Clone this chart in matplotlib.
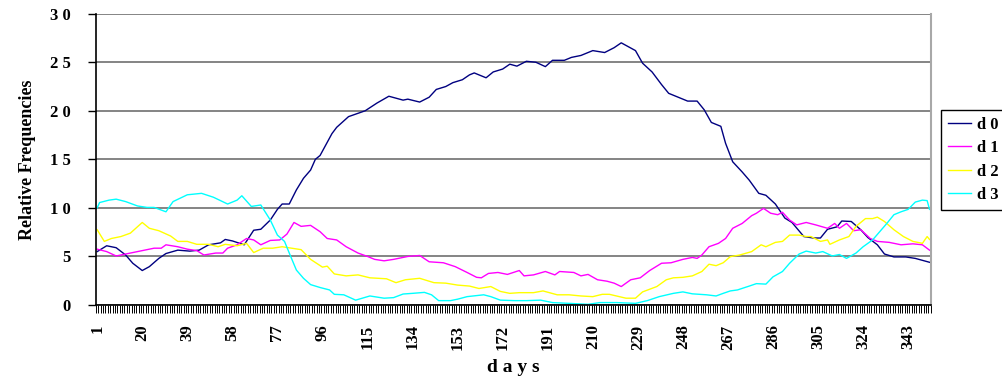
import matplotlib
matplotlib.use('Agg')
import matplotlib.pyplot as plt
from matplotlib.ticker import FixedLocator, FixedFormatter, NullFormatter

plt.rcParams['font.family'] = ['Liberation Serif', 'DejaVu Serif']
plt.rcParams['font.weight'] = 'bold'

n_days = 352
tick_days = list(range(1, n_days + 1, 19))
y_ticks = [0, 5, 10, 15, 20, 25, 30]
y_labels = ['0', '5', '1 0', '1 5', '2 0', '2 5', '3 0']
labels = ['d 0', 'd 1', 'd 2', 'd 3']
colors = ['#000080', '#FF00FF', '#FFFF00', '#00FFFF']

# d0 - dunkelblau
days_d0 = [1, 5, 9, 13, 16, 20, 23, 27, 30, 35, 40, 44, 48, 53, 55, 58, 63, 67, 70, 74,
           77, 79, 82, 85, 88, 91, 93, 95, 100, 102, 107, 114, 119, 124, 130, 132, 137, 141,
           144, 148, 151, 155, 158, 160, 165, 168, 172, 175, 178, 182, 186, 190, 193, 198,
           201, 205, 210, 215, 219, 222, 225, 228, 231, 235, 239, 242, 246, 250, 254, 257,
           260, 264, 266, 269, 273, 276, 280, 283, 287, 291, 294, 299, 303, 306, 309, 313,
           315, 319, 323, 326, 330, 333, 337, 342, 346, 349, 352]
vals_d0 = [5.5, 6.1, 5.9, 5.15, 4.3, 3.55, 3.95, 4.8, 5.3, 5.65, 5.55, 5.65, 6.2, 6.4, 6.75,
           6.6, 6.2, 7.7, 7.8, 8.75, 9.85, 10.4, 10.4, 11.85, 13.05, 13.9, 15.0, 15.4, 17.65,
           18.3, 19.4, 20.0, 20.8, 21.5, 21.1, 21.2, 20.9, 21.4, 22.2, 22.5, 22.9, 23.2, 23.7,
           23.9, 23.4, 24.0, 24.3, 24.8, 24.6, 25.1, 25.0, 24.55, 25.2, 25.2, 25.5, 25.7, 26.2,
           26.0, 26.5, 27.0, 26.6, 26.2, 24.9, 24.0, 22.7, 21.8, 21.4, 21.0, 21.0, 20.1, 18.8,
           18.4, 16.65, 14.75, 13.7, 12.85, 11.5, 11.3, 10.4, 8.95, 8.5, 7.05, 6.9, 6.9, 7.8,
           8.05, 8.65, 8.6, 7.75, 6.95, 6.2, 5.25, 4.95, 4.95, 4.8, 4.6, 4.4]

# d1 - magenta
days_d1 = [1, 5, 9, 13, 18, 21, 25, 28, 30, 35, 39, 43, 46, 51, 54, 56, 60, 64, 67, 70, 74,
           78, 81, 84, 87, 91, 95, 98, 102, 106, 111, 115, 118, 122, 126, 132, 137, 141, 147,
           152, 157, 161, 163, 166, 170, 174, 179, 181, 185, 190, 194, 196, 202, 205, 208, 212,
           216, 219, 222, 226, 230, 234, 239, 243, 248, 252, 254, 256, 259, 263, 266, 269, 273,
           277, 279, 282, 285, 288, 290, 293, 296, 300, 304, 309, 312, 314, 317, 320, 323, 327,
           330, 335, 340, 345, 349, 352]
vals_d1 = [5.75, 5.5, 5.05, 5.25, 5.5, 5.65, 5.85, 5.85, 6.2, 6.0, 5.75, 5.6, 5.15, 5.35, 5.35,
           5.85, 6.2, 6.85, 6.7, 6.2, 6.65, 6.7, 7.3, 8.5, 8.1, 8.2, 7.55, 6.85, 6.7, 6.0, 5.35,
           5.0, 4.7, 4.55, 4.7, 5.0, 5.1, 4.45, 4.35, 3.95, 3.35, 2.85, 2.8, 3.25, 3.35, 3.15,
           3.55, 3.0, 3.1, 3.45, 3.1, 3.45, 3.35, 3.0, 3.15, 2.6, 2.45, 2.25, 1.9, 2.6, 2.8, 3.55,
           4.3, 4.35, 4.7, 4.9, 4.8, 5.15, 6.0, 6.35, 6.85, 7.9, 8.4, 9.2, 9.45, 9.95, 9.45, 9.3,
           9.55, 8.75, 8.25, 8.5, 8.25, 7.9, 8.4, 7.9, 8.4, 7.65, 7.75, 6.85, 6.55, 6.45, 6.2,
           6.3, 6.2, 5.65]

# d2 - gelb
days_d2 = [1, 4, 7, 11, 15, 20, 23, 27, 32, 35, 39, 43, 48, 52, 55, 60, 64, 67, 71, 75, 79,
           83, 87, 91, 96, 98, 101, 106, 111, 116, 123, 127, 131, 137, 143, 148, 153, 158, 162,
           167, 171, 175, 179, 185, 189, 195, 200, 205, 210, 214, 217, 224, 228, 231, 237, 241,
           244, 248, 252, 256, 259, 262, 265, 268, 272, 277, 281, 283, 287, 290, 293, 297, 300,
           302, 306, 309, 310, 314, 318, 321, 325, 328, 330, 333, 337, 341, 345, 349, 351, 352]
vals_d2 = [7.75, 6.55, 6.85, 7.05, 7.4, 8.5, 7.9, 7.65, 7.1, 6.55, 6.55, 6.25, 6.25, 6.0, 6.25,
           6.1, 6.35, 5.4, 5.85, 5.85, 6.0, 5.85, 5.7, 4.7, 3.9, 4.0, 3.2, 3.0, 3.1, 2.8, 2.7, 2.3,
           2.6, 2.75, 2.3, 2.25, 2.05, 1.95, 1.7, 1.9, 1.4, 1.2, 1.27, 1.27, 1.45, 1.05, 1.05,
           0.93, 0.86, 1.1, 1.1, 0.7, 0.7, 1.35, 1.9, 2.6, 2.8, 2.85, 3.0, 3.45, 4.2, 4.05, 4.35,
           4.98, 5.15, 5.5, 6.2, 6.0, 6.45, 6.55, 7.2, 7.2, 7.05, 7.05, 6.55, 6.7, 6.25, 6.7,
           7.05, 8.1, 8.9, 8.9, 9.05, 8.6, 7.75, 7.05, 6.55, 6.35, 7.05, 6.75]

# d3 - cyan
days_d3 = [1, 2, 6, 9, 13, 18, 22, 25, 30, 33, 39, 45, 50, 56, 60, 62, 66, 70, 74, 77, 80,
           82, 85, 88, 91, 95, 99, 101, 105, 110, 116, 122, 126, 130, 134, 139, 142, 145, 150,
           153, 157, 164, 167, 171, 177, 182, 188, 193, 200, 208, 213, 220, 228, 233, 238, 244,
           248, 252, 258, 262, 265, 268, 271, 276, 279, 283, 286, 290, 293, 297, 300, 304, 307,
           311, 314, 317, 321, 324, 328, 331, 334, 337, 340, 343, 346, 349, 351, 352]
vals_d3 = [10.0, 10.55, 10.8, 10.9, 10.65, 10.2, 10.05, 10.05, 9.6, 10.65, 11.35, 11.5, 11.1,
           10.4, 10.8, 11.25, 10.15, 10.3, 8.75, 7.2, 6.55, 5.35, 3.6, 2.75, 2.1, 1.8, 1.55,
           1.1, 1.05, 0.5, 0.93, 0.7, 0.76, 1.13, 1.2, 1.3, 1.05, 0.45, 0.45, 0.6, 0.86, 1.05,
           0.86, 0.5, 0.45, 0.45, 0.5, 0.25, 0.17, 0.07, 0.25, 0.25, 0.17, 0.45, 0.86, 1.2, 1.35,
           1.15, 1.05, 0.93, 1.2, 1.45, 1.55, 1.95, 2.2, 2.15, 2.9, 3.45, 4.3, 5.25, 5.55, 5.35,
           5.5, 5.05, 5.2, 4.8, 5.35, 6.0, 6.7, 7.55, 8.4, 9.3, 9.6, 9.85, 10.6, 10.8, 10.75, 9.85]

series = [(days_d0, vals_d0), (days_d1, vals_d1), (days_d2, vals_d2), (days_d3, vals_d3)]

fig = plt.figure(figsize=(10.03, 3.77), dpi=100)
ax = fig.add_axes([96 / 1003, 1 - 305 / 377, 834.7 / 1003, 291.3 / 377])

for (xs, ys), lab, col in zip(series, labels, colors):
    ax.plot(xs, ys, color=col, lw=1.0, label=lab)

ax.set_xlim(0.5, n_days + 0.5)
ax.set_ylim(0, 30)

# Gitternetz
ax.yaxis.grid(True, color='#707070', lw=1.2)
ax.set_axisbelow(True)

ax.spines['top'].set_visible(False)
ax.spines['right'].set_color('#a8a8a8')
ax.spines['right'].set_linewidth(1.5)
ax.spines['left'].set_linewidth(1.2)
ax.spines['bottom'].set_linewidth(1.2)

ax.yaxis.set_major_locator(FixedLocator(y_ticks))
ax.yaxis.set_major_formatter(FixedFormatter(y_labels))
ax.tick_params(axis='y', direction='out', length=6, width=1, pad=12, labelsize=12)

ax.xaxis.set_major_locator(FixedLocator(tick_days))
ax.xaxis.set_major_formatter(FixedFormatter([str(d) for d in tick_days]))
ax.xaxis.set_minor_locator(FixedLocator([k + 0.5 for k in range(0, n_days + 1)]))
ax.xaxis.set_minor_formatter(NullFormatter())
ax.tick_params(axis='x', which='major', length=0, pad=14, labelsize=12, labelrotation=90)
ax.tick_params(axis='x', which='minor', direction='out', length=6, width=0.7)

ax.set_ylabel('Relative Frequencies', fontsize=13, fontweight='bold', labelpad=10)
ax.set_xlabel('d a y s', fontsize=14, fontweight='bold', labelpad=7)

leg = fig.legend(loc='upper left', bbox_to_anchor=(941 / 1003, 1 - 110 / 377),
                 borderaxespad=0, fontsize=12, handlelength=1.4, handletextpad=0.35,
                 labelspacing=0.45, borderpad=0.4, fancybox=False, framealpha=1,
                 edgecolor='black')
leg.get_frame().set_linewidth(1.0)

fig.savefig('out.png', dpi=100)
